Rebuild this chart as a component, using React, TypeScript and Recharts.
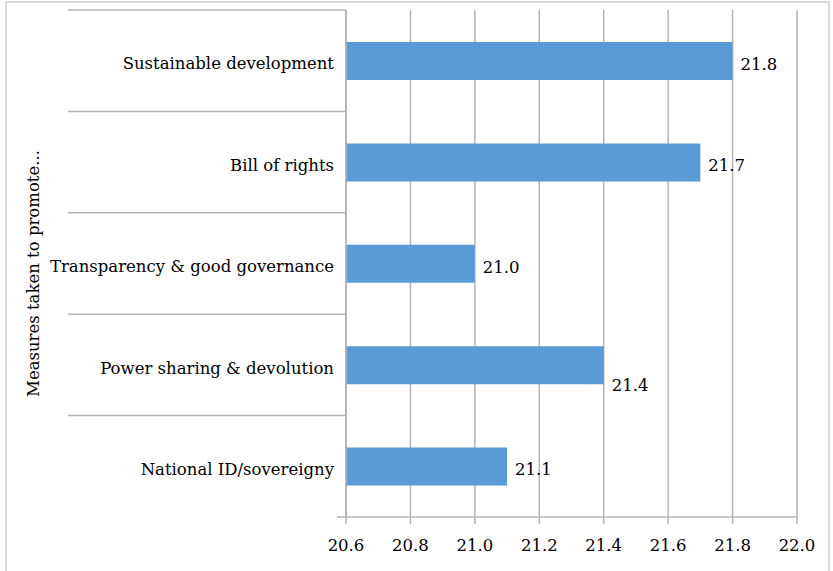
import React from 'react';
import { BarChart, Bar, XAxis, YAxis, CartesianGrid, LabelList, Label } from 'recharts';

const categories = [
  'Sustainable development',
  'Bill of rights',
  'Transparency & good governance',
  'Power sharing & devolution',
  'National ID/sovereigny',
];
const values = [21.8, 21.7, 21.0, 21.4, 21.1];
const xTicks = [20.6, 20.8, 21.0, 21.2, 21.4, 21.6, 21.8, 22.0];

const data = categories.map((name, i) => ({ name, value: values[i] }));

const FONT = '"DejaVu Serif", Georgia, serif';
const FS = 16.5;
const GRID = '#b3b3b3';
const W = 833;
const H = 571;
const TOP = 10;
const AXIS_H = 54;
const PLOT_LEFT = 346;
const BAND = (H - TOP - AXIS_H) / categories.length;

function CategoryTick(props: any) {
  const { y, payload, index } = props;
  return (
    <g>
      <line x1={68} x2={PLOT_LEFT} y1={y - BAND / 2} y2={y - BAND / 2} stroke={GRID} strokeWidth={1.5} />
      {index === categories.length - 1 && (
        <line x1={PLOT_LEFT - 9} x2={PLOT_LEFT} y1={y + BAND / 2} y2={y + BAND / 2} stroke={GRID} strokeWidth={1.5} />
      )}
      <text x={PLOT_LEFT - 12} y={y + 3} dy="0.35em" textAnchor="end" fontFamily={FONT} fontSize={FS} fill="#000">
        {payload.value}
      </text>
    </g>
  );
}

function ValueLabel(props: any) {
  const { x, y, width, height, value, index } = props;
  // Excel pushed the "Power sharing" label below the bar end
  const dy = index === 3 ? 20 : 3;
  return (
    <text x={x + width + 8} y={y + height / 2 + dy} dy="0.35em" fontFamily={FONT} fontSize={FS} fill="#000">
      {Number(value).toFixed(1)}
    </text>
  );
}

export default function App() {
  return (
    <div style={{ position: 'absolute', left: 0, top: 0, width: W, height: H, background: '#fff', overflow: 'hidden' }}>
      <div
        style={{
          position: 'absolute',
          left: 5,
          top: 1,
          width: W - 8,
          height: H,
          border: '2px solid #d9d9d9',
          borderBottom: 'none',
          boxSizing: 'border-box',
        }}
      />
      <div style={{ position: 'absolute', left: 0, top: 0 }}>
        <BarChart
          width={W}
          height={H}
          data={data}
          layout="vertical"
          margin={{ top: TOP, right: 36, bottom: 0, left: 0 }}
          barSize={38}
        >
          <CartesianGrid horizontal={false} vertical stroke={GRID} strokeWidth={1.5} />
          <XAxis
            type="number"
            domain={[20.6, 22.0]}
            ticks={xTicks}
            interval={0}
            height={AXIS_H}
            tickFormatter={(v: number) => v.toFixed(1)}
            stroke={GRID}
            strokeWidth={1.5}
            tickSize={7}
            tickMargin={15}
            tick={{ fill: '#000', fontFamily: FONT, fontSize: FS }}
          />
          <YAxis
            type="category"
            dataKey="name"
            width={PLOT_LEFT}
            stroke={GRID}
            strokeWidth={1.5}
            tickLine={false}
            tick={<CategoryTick />}
            interval={0}
          >
            <Label
              content={(p: any) => (
                <text
                  x={33}
                  y={p.viewBox.y + p.viewBox.height / 2 + 10}
                  transform={`rotate(-90 33 ${p.viewBox.y + p.viewBox.height / 2 + 10})`}
                  textAnchor="middle"
                  dominantBaseline="central"
                  fontFamily={FONT}
                  fontSize={FS}
                  fill="#000"
                >
                  Measures taken to promote...
                </text>
              )}
            />
          </YAxis>
          <Bar dataKey="value" fill="#5b9bd5" isAnimationActive={false}>
            <LabelList dataKey="value" content={<ValueLabel />} />
          </Bar>
        </BarChart>
      </div>
    </div>
  );
}
